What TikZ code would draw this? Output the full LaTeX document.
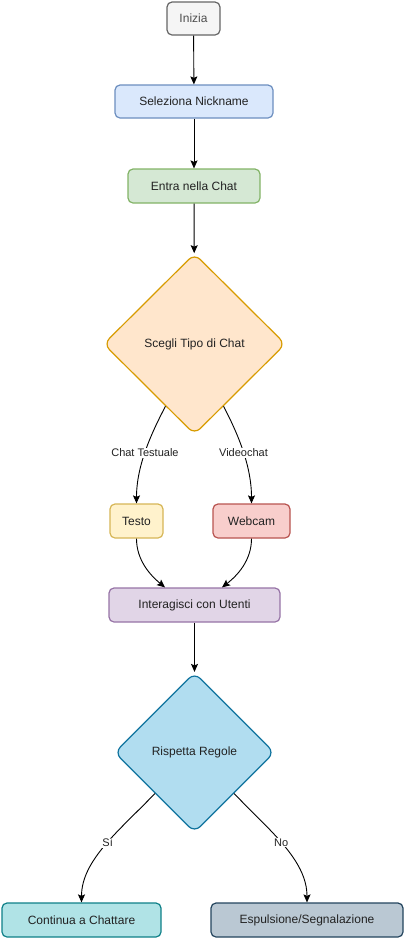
\documentclass[tikz,border=0pt]{standalone}
\usepackage{fontspec}
\setmainfont{Liberation Sans}
\usetikzlibrary{shapes.geometric,arrows.meta}
\definecolor{gfill}{HTML}{F5F5F5}\definecolor{gline}{HTML}{666666}
\definecolor{bfill}{HTML}{DAE8FC}\definecolor{bline}{HTML}{6C8EBF}
\definecolor{grfill}{HTML}{D5E8D4}\definecolor{grline}{HTML}{82B366}
\definecolor{ofill}{HTML}{FFE6CC}\definecolor{oline}{HTML}{D79B00}
\definecolor{yfill}{HTML}{FFF2CC}\definecolor{yline}{HTML}{D6B656}
\definecolor{rfill}{HTML}{F8CECC}\definecolor{rline}{HTML}{B85450}
\definecolor{pfill}{HTML}{E1D5E7}\definecolor{pline}{HTML}{9673A6}
\definecolor{cfill}{HTML}{B1DDF0}\definecolor{cline}{HTML}{10739E}
\definecolor{tfill}{HTML}{B0E3E6}\definecolor{tline}{HTML}{0E8088}
\definecolor{sfill}{HTML}{BAC8D3}\definecolor{sline}{HTML}{23445D}
\definecolor{txt}{HTML}{222222}
\begin{document}
\begin{tikzpicture}[x=1pt,y=-1pt,
  box/.style={draw, rounded corners=5pt, line width=1.2pt, inner sep=0pt, font=\fontsize{12}{14}\selectfont, text=txt},
  dec/.style={draw, diamond, aspect=1, rounded corners=8pt, line width=1.2pt, inner sep=0pt, font=\fontsize{12}{14}\selectfont, text=txt},
  edge/.style={draw, line width=0.9pt, -{Stealth[length=8pt,width=7pt,inset=1.5pt]}},
  lbl/.style={fill=white, inner sep=1pt, font=\fontsize{11}{13}\selectfont, text=txt}]
\useasboundingbox (0,0) rectangle (404,938);
\node[box, fill=gfill, draw=gline, text=txt!80!white, minimum width=53pt, minimum height=33pt] (start) at (193.5,18.5) {Inizia};
\node[box, fill=bfill, draw=bline, minimum width=158pt, minimum height=33pt] (nick) at (194,101.5) {Seleziona Nickname};
\node[box, fill=grfill, draw=grline, minimum width=132pt, minimum height=34pt] (enter) at (194,186) {Entra nella Chat};
\node[dec, fill=ofill, draw=oline, minimum width=182pt, minimum height=181pt] (choose) at (194.5,344) {Scegli Tipo di Chat};
\node[box, fill=yfill, draw=yline, minimum width=53pt, minimum height=34pt] (text) at (136.5,521) {Testo};
\node[box, fill=rfill, draw=rline, minimum width=77pt, minimum height=34pt] (cam) at (251.5,521) {Webcam};
\node[box, fill=pfill, draw=pline, minimum width=171pt, minimum height=34pt] (inter) at (194.5,605) {Interagisci con Utenti};
\node[dec, fill=cfill, draw=cline, minimum width=160pt, minimum height=160pt] (rules) at (194.5,752.5) {Rispetta Regole};
\node[box, fill=tfill, draw=tline, minimum width=159pt, minimum height=34pt] (cont) at (81.5,920) {Continua a Chattare};
\node[box, fill=sfill, draw=sline, minimum width=192pt, minimum height=34pt] (exp) at (307,920) {Espulsione/Segnalazione};

\draw[edge] (start) -- (nick);
\draw[edge] (nick) -- (enter);
\draw[edge] (enter) -- (choose);
\draw[edge] (choose.-115) .. controls (152,432) and (136.5,465) .. node[lbl, pos=0.53] {Chat Testuale} (text.north);
\draw[edge] (choose.-65) .. controls (237,432) and (251.5,465) .. node[lbl, pos=0.53] {Videochat} (cam.north);
\draw[edge] (text.south) .. controls (136.5,560) and (150,575) .. (inter.north -| 165,0);
\draw[edge] (cam.south) .. controls (251.5,560) and (238,575) .. (inter.north -| 222,0);
\draw[edge] (inter) -- (rules);
\draw[edge] (rules.-134) .. controls (120,830) and (81.5,860) .. node[lbl, pos=0.47] {Sì} (cont.north);
\draw[edge] (rules.-46) .. controls (269,830) and (307,860) .. node[lbl, pos=0.47] {No} (exp.north);
\end{tikzpicture}
\end{document}
